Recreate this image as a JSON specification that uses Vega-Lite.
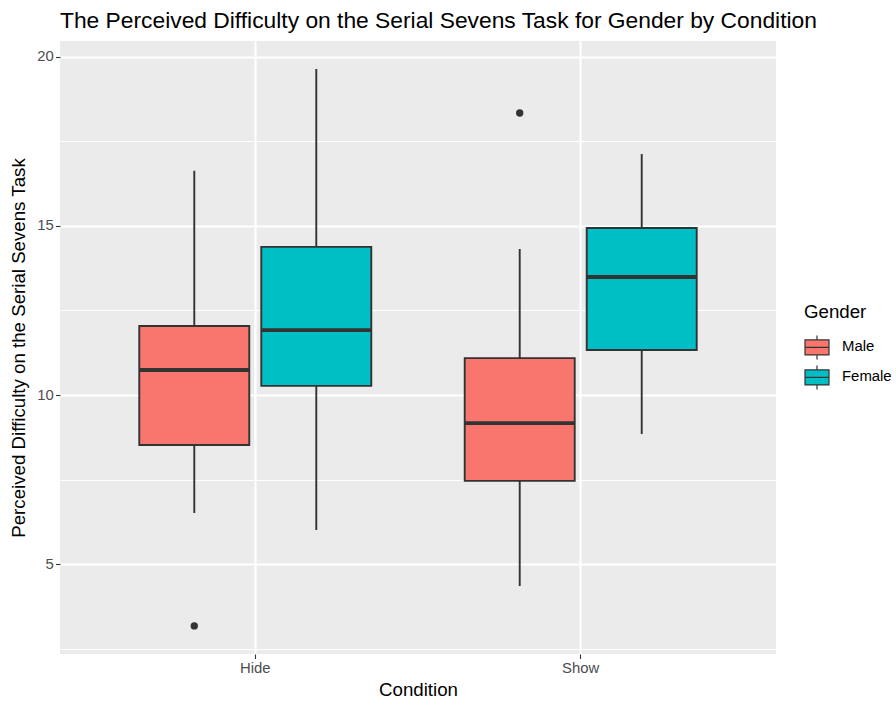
{
  "$schema": "https://vega.github.io/schema/vega-lite/v6.json",
  "width": 716,
  "height": 613,
  "autosize": {"type": "none"},
  "padding": {"left": 60, "top": 41, "right": 120, "bottom": 48},
  "background": "white",
  "config": {
    "font": "Liberation Sans",
    "view": {"fill": "#EBEBEB", "stroke": null}
  },
  "title": {
    "text": "The Perceived Difficulty on the Serial Sevens Task for Gender by Condition",
    "anchor": "start",
    "frame": "group",
    "font": "Liberation Sans",
    "fontSize": 22.8,
    "fontWeight": "normal",
    "color": "black",
    "baseline": "alphabetic",
    "offset": -10
  },
  "datasets": {
    "boxes": [
      {"Condition": "Hide", "Gender": "Male", "lower": 6.51, "q1": 8.52, "median": 10.74, "q3": 12.04, "upper": 16.63},
      {"Condition": "Hide", "Gender": "Female", "lower": 6.01, "q1": 10.27, "median": 11.92, "q3": 14.38, "upper": 19.64},
      {"Condition": "Show", "Gender": "Male", "lower": 4.35, "q1": 7.46, "median": 9.17, "q3": 11.09, "upper": 14.32},
      {"Condition": "Show", "Gender": "Female", "lower": 8.85, "q1": 11.33, "median": 13.49, "q3": 14.94, "upper": 17.13}
    ],
    "outliers": [
      {"Condition": "Hide", "Gender": "Male", "value": 3.17},
      {"Condition": "Show", "Gender": "Male", "value": 18.34}
    ]
  },
  "encoding": {
    "x": {
      "field": "Condition",
      "type": "nominal",
      "scale": {"domain": ["Hide", "Show"], "paddingInner": 0.2871, "paddingOuter": 0.2436},
      "axis": {
        "title": "Condition",
        "labelAngle": 0,
        "bandPosition": 0.5,
        "grid": true,
        "gridColor": "white",
        "gridWidth": 2.2,
        "domain": false,
        "tickColor": "#333333",
        "tickSize": 4.5,
        "tickWidth": 1.1,
        "labelPadding": 2.1,
        "labelColor": "#4D4D4D",
        "labelFontSize": 14.9,
        "labelFont": "Liberation Sans",
        "titleFont": "Liberation Sans",
        "titleFontSize": 18.7,
        "titleFontWeight": "normal",
        "titleColor": "black",
        "titlePadding": 4.5
      }
    },
    "xOffset": {
      "field": "Gender",
      "type": "nominal",
      "scale": {"domain": ["Male", "Female"], "paddingInner": 0.0984, "paddingOuter": 0}
    }
  },
  "layer": [
    {
      "data": {"name": "boxes"},
      "mark": {"type": "rule", "color": "#333333", "strokeWidth": 1.9},
      "encoding": {
        "y": {
          "field": "lower",
          "type": "quantitative",
          "scale": {"domain": [2.34, 20.47], "nice": false, "zero": false},
          "axis": {
            "title": "Perceived Difficulty on the Serial Sevens Task",
            "values": [2.5, 5, 7.5, 10, 12.5, 15, 17.5, 20],
            "labelExpr": "datum.value % 5 === 0 ? datum.label : ''",
            "grid": true,
            "gridColor": "white",
            "gridWidth": {"condition": {"test": "datum.value % 5 === 0", "value": 2.2}, "value": 1.1},
            "domain": false,
            "tickColor": "#333333",
            "tickSize": 4.5,
            "tickWidth": 1.1,
            "tickOpacity": {"condition": {"test": "datum.value % 5 === 0", "value": 1}, "value": 0},
            "labelPadding": 2.2,
            "labelColor": "#4D4D4D",
            "labelFontSize": 14.9,
            "labelFont": "Liberation Sans",
            "titleFont": "Liberation Sans",
            "titleFontSize": 18.7,
            "titleFontWeight": "normal",
            "titleColor": "black",
            "titlePadding": 8
          }
        },
        "y2": {"field": "upper"}
      }
    },
    {
      "data": {"name": "boxes"},
      "mark": {"type": "bar", "stroke": "#333333", "strokeWidth": 1.9},
      "encoding": {
        "y": {"field": "q1", "type": "quantitative"},
        "y2": {"field": "q3"},
        "fill": {
          "field": "Gender",
          "type": "nominal",
          "scale": {"domain": ["Male", "Female"], "range": ["#F8766D", "#00BFC4"]},
          "legend": {
            "title": "Gender",
            "orient": "none",
            "legendX": 744,
            "legendY": 262,
            "symbolType": "M-1,-0.625H1V0.625H-1Z M-1,0H1 M0,-0.625V-1 M0,0.625V1",
            "symbolSize": 576,
            "symbolStrokeColor": "#333333",
            "symbolStrokeWidth": 1.2,
            "symbolOpacity": 1,
            "rowPadding": 0,
            "labelFont": "Liberation Sans",
            "labelFontSize": 14.9,
            "labelColor": "black",
            "labelOffset": 12,
            "titleFont": "Liberation Sans",
            "titleFontSize": 18.7,
            "titleFontWeight": "normal",
            "titleColor": "black",
            "titlePadding": 12.7
          }
        }
      }
    },
    {
      "data": {"name": "boxes"},
      "mark": {"type": "tick", "color": "#333333", "thickness": 3.8, "size": 110, "opacity": 1},
      "encoding": {
        "y": {"field": "median", "type": "quantitative"}
      }
    },
    {
      "data": {"name": "outliers"},
      "mark": {"type": "point", "filled": true, "color": "#333333", "size": 54, "opacity": 1},
      "encoding": {
        "y": {"field": "value", "type": "quantitative"}
      }
    }
  ]
}
